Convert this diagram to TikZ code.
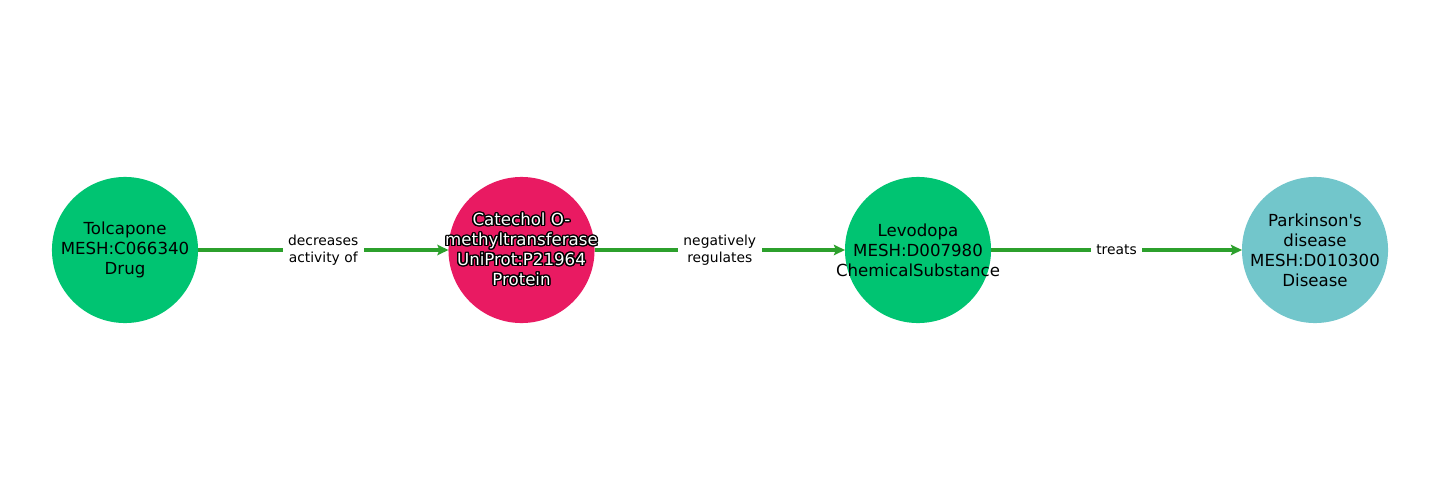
\documentclass[tikz,border=0pt]{standalone}
\usepackage{fontspec}
\setmainfont{DejaVu Sans}
\usepackage{contour}
\contourlength{1pt}
\usetikzlibrary{arrows.meta}
\definecolor{drug}{HTML}{00C472}
\definecolor{protein}{HTML}{E91A62}
\definecolor{disease}{HTML}{72C6CB}
\definecolor{edgegreen}{HTML}{2CA02C}
\tikzset{>={Stealth[length=8pt,width=7.5pt,inset=1.5pt]}}

\begin{document}
\begin{tikzpicture}[x=0.01in,y=0.01in,
  entity/.style={circle,minimum size=1.46in,inner sep=0pt,outer sep=0pt},
  entitytext/.style={align=center,inner sep=0pt,font=\fontsize{12}{14.4}\selectfont},
  rel/.style={line width=2.8pt,->,draw=edgegreen},
  rellabel/.style={fill=white,align=center,inner sep=4pt,
    font=\fontsize{10}{12}\selectfont}]
  \useasboundingbox (0,0) rectangle (1440,500);

  % Entities
  \node[entity,fill=drug,label={[entitytext]center:Tolcapone\\MESH:C066340\\Drug}]
    (tolcapone) at (125,250) {};
  \node[entity,fill=protein,label={[entitytext]center:
    \contour{black}{\color{white}Catechol O-}\\\contour{black}{\color{white}methyltransferase}\\
    \contour{black}{\color{white}UniProt:P21964}\\\contour{black}{\color{white}Protein}}]
    (comt) at (521.5,250) {};
  \node[entity,fill=drug,label={[entitytext]center:Levodopa\\MESH:D007980\\ChemicalSubstance}]
    (levodopa) at (918,250) {};
  \node[entity,fill=disease,label={[entitytext]center:Parkinson\textquotesingle s\\disease\\MESH:D010300\\Disease}]
    (parkinson) at (1315,250) {};

  % Relations
  \draw[rel] (tolcapone) -- node[rellabel] {decreases\\activity of} (comt);
  \draw[rel] (comt) -- node[rellabel] {negatively\\regulates} (levodopa);
  \draw[rel] (levodopa) -- node[rellabel] {treats} (parkinson);
\end{tikzpicture}
\end{document}
